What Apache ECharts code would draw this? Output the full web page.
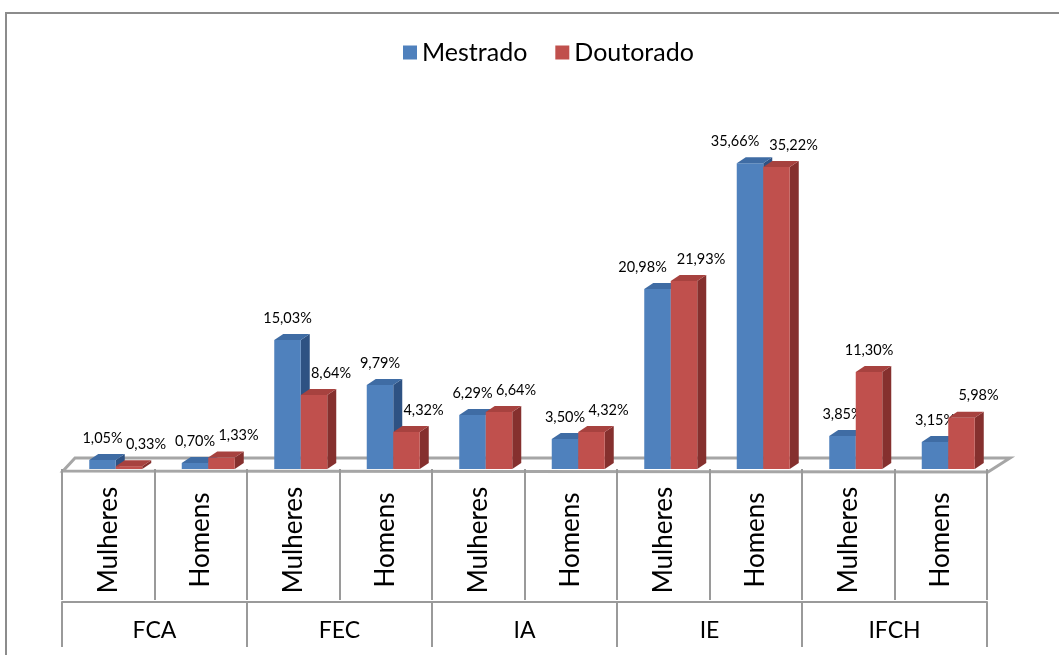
<!DOCTYPE html>
<html>
<head>
<meta charset="utf-8">
<script src="https://cdn.jsdelivr.net/npm/echarts@6/dist/echarts.min.js"></script>
<style>
  html, body { margin: 0; padding: 0; background: #fff; }
  #chart { width: 1059px; height: 655px; }
</style>
</head>
<body>
<div id="chart"></div>
<script>
const categories = ["Mulheres", "Homens", "Mulheres", "Homens", "Mulheres", "Homens", "Mulheres", "Homens", "Mulheres", "Homens"];
const groups = ["FCA", "FEC", "IA", "IE", "IFCH"];
const mestrado = [1.05, 0.70, 15.03, 9.79, 6.29, 3.50, 20.98, 35.66, 3.85, 3.15];
const doutorado = [0.33, 1.33, 8.64, 4.32, 6.64, 4.32, 21.93, 35.22, 11.30, 5.98];

const FONT = "Lato";
const faces = [
  { front: "#4F81BD", top: "#3F6CA4", side: "#2E5283" },
  { front: "#C0504D", top: "#A7423F", side: "#85302E" },
];
const barW = 26.5;
const shift = 7.5; // pair of bars sits a bit right of category center
const dx = 9, dy = -6;

function fmt(v) {
  return v.toFixed(2).replace(".", ",") + "%";
}
function textW(s) {
  // rough width of a data label
  let w = 0;
  for (const c of s) w += c === "," ? 4.5 : c === "%" ? 13 : 9.2;
  return w;
}

// blue labels move left when they would really run into the red one
function labelDx(s, i, api) {
  const m = mestrado[i], d = doutorado[i];
  if (s === 1) return d - m > 4 ? 0 : 17;
  const c = api.coord([i, 0])[0] + shift;
  const bc = c - barW / 2, rc = c + barW / 2 + 17;
  const yb = api.coord([i, m])[1], yr = api.coord([i, d])[1];
  const overlap = bc + textW(fmt(m)) / 2 - (rc - textW(fmt(d)) / 2);
  return overlap > 5 && Math.abs(yb - yr) < 15 ? -15 : 0;
}

function makeRender(s, values) {
  return function (params, api) {
    const i = api.value(0);
    const v = values[i];
    const base = api.coord([i, 0]);
    const top = api.coord([i, v]);
    const c = base[0] + shift;
    const x0 = s === 0 ? c - barW : c;
    const x1 = x0 + barW;
    const yt = top[1], yb = base[1];
    const col = faces[s];
    return {
      type: "group",
      children: [
        { type: "polygon", shape: { points: [[x1, yt], [x1 + dx, yt + dy], [x1 + dx, yb + dy], [x1, yb]] }, style: { fill: col.side } },
        { type: "rect", shape: { x: x0, y: yt, width: barW, height: yb - yt }, style: { fill: col.front } },
        { type: "polygon", shape: { points: [[x0, yt], [x1, yt], [x1 + dx, yt + dy], [x0 + dx, yt + dy]] }, style: { fill: col.top } },
        {
          type: "text",
          x: x0 + barW / 2 + labelDx(s, i, api),
          y: yt - 22,
          style: { text: fmt(v), fill: "#000", font: "14.5px " + FONT, align: "center", verticalAlign: "middle" },
        },
      ],
    };
  };
}

const chart = echarts.init(document.getElementById("chart"));
chart.setOption({
  animation: false,
  backgroundColor: "#fff",
  textStyle: { fontFamily: FONT },
  legend: {
    left: 398,
    top: 35,
    icon: "rect",
    itemWidth: 14,
    itemHeight: 14,
    itemGap: 28,
    textStyle: { fontSize: 25, color: "#000", fontFamily: FONT },
    data: ["Mestrado", "Doutorado"],
  },
  grid: { left: 62, right: 72, top: 126, bottom: 186 },
  xAxis: [
    {
      type: "category",
      data: categories,
      offset: 2,
      axisLine: { show: false },
      axisTick: { show: true, interval: 0, length: 131, lineStyle: { color: "#9A9A9A", width: 2 } },
      axisLabel: { interval: 0, rotate: 90, align: "center", verticalAlign: "middle", margin: 69, fontSize: 26, color: "#000", fontFamily: FONT },
    },
    {
      type: "category",
      data: groups,
      position: "bottom",
      offset: 133,
      axisLine: { show: true, lineStyle: { color: "#9A9A9A", width: 2 } },
      axisTick: { show: true, interval: 0, length: 45, lineStyle: { color: "#9A9A9A", width: 2 } },
      axisLabel: { interval: 0, margin: 17, fontSize: 23, color: "#000", fontFamily: FONT },
    },
  ],
  yAxis: { type: "value", min: 0, max: 40, show: false },
  graphic: [
    {
      type: "rect",
      z: -10,
      shape: { x: 6, y: 13, width: 1200, height: 800 },
      style: { fill: "none", stroke: "#8C8C8C", lineWidth: 2 },
    },
    {
      type: "polygon",
      z: -5,
      shape: { points: [[63, 471], [75, 458], [1010, 458], [988, 472]] },
      style: { fill: "#fff", stroke: "#A6A6A6", lineWidth: 3 },
    },
  ],
  series: [
    {
      name: "Mestrado",
      type: "custom",
      itemStyle: { color: faces[0].front },
      renderItem: makeRender(0, mestrado),
      data: mestrado.map((v, i) => [i, v]),
      z: 2,
    },
    {
      name: "Doutorado",
      type: "custom",
      itemStyle: { color: faces[1].front },
      renderItem: makeRender(1, doutorado),
      data: doutorado.map((v, i) => [i, v]),
      z: 3,
    },
  ],
});
</script>
</body>
</html>
